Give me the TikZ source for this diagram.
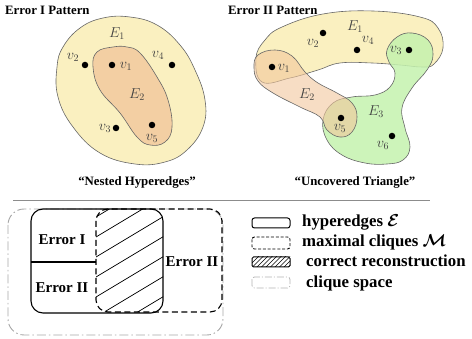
\documentclass[tikz,border=0pt]{standalone}
\usepackage{amsmath}
\usepackage{fontspec}
\setmainfont{Liberation Serif}
\begin{document}
\begin{tikzpicture}[x=1pt,y=-1pt,
  ttl/.style={font=\fontsize{12.8}{14}\selectfont\bfseries, inner sep=0pt},
  bigtxt/.style={font=\fontsize{15}{17}\selectfont\bfseries, inner sep=0pt},
  lgtxt/.style={font=\fontsize{16.8}{19}\selectfont\bfseries, inner sep=0pt, anchor=west},
  mlab/.style={font=\fontsize{14.5}{16}\selectfont, text=black!75, inner sep=0pt},
  vdot/.style={circle, fill=black, inner sep=0pt, minimum size=6.5pt},
  hedge/.style={draw=black!60, line width=0.6pt},
  solidbox/.style={draw=black, line width=1.1pt, rounded corners=12pt},
  dashbox/.style={draw=black, line width=1.1pt, rounded corners=12pt, dash pattern=on 6pt off 3.5pt},
  cliquebox/.style={draw=black!35, line width=0.9pt, rounded corners=16pt, dash pattern=on 9pt off 3pt on 1.5pt off 3pt},
  hatchline/.style={line width=0.7pt}
]
\useasboundingbox (0,0) rectangle (472,339);
\definecolor{yel}{HTML}{FAF0C0}
\definecolor{pch}{HTML}{F2C79C}
\definecolor{grn}{HTML}{C4F2AE}

% ---------- titles ----------
\node[ttl, anchor=west] (t1) at (5,10) {Error I Pattern};
\node[ttl, anchor=west] (t2) at (228,10) {Error II Pattern};

% ---------- left figure ----------
\path[hedge, fill=yel] plot[smooth cycle, tension=0.7] coordinates {
 (103,18) (80,28) (63,47) (57,67) (58,97) (73,127) (100,153) (135,164)
 (165,162) (187,150) (203,127) (205,100) (195,70) (180,45) (157,25) (130,17)};
\path[hedge, fill=pch, fill opacity=0.8] plot[smooth cycle, tension=0.7] coordinates {
 (113,47) (97,52) (93,67) (100,90) (120,113) (137,137) (150,145) (165,142)
 (172,127) (168,100) (157,77) (140,53) (127,47)};
\node[mlab] (lE1) at (117,34) {$E_1$};
\node[mlab] (lE2) at (137,95) {$E_2$};
\node[vdot] (lv2) at (85,65) {};
\node[vdot] (lv1) at (112,65) {};
\node[vdot] (lv4) at (172,65) {};
\node[vdot] (lv3) at (116,128) {};
\node[vdot] (lv5) at (152,125) {};
\node[mlab] (lv2l) at (73,57) {$v_2$};
\node[mlab] (lv1l) at (126,66) {$v_1$};
\node[mlab] (lv4l) at (158,55) {$v_4$};
\node[mlab] (lv3l) at (105,128) {$v_3$};
\node[mlab] (lv5l) at (152,138) {$v_5$};
\node[ttl] (c1) at (137,182) {“Nested Hyperedges”};

% ---------- right figure ----------
\path[hedge, fill=yel] plot[smooth cycle, tension=0.7] coordinates {
 (256,58) (265,40) (282,27) (323,14) (373,11) (420,17) (438,28) (443,48)
 (434,64) (423,67) (400,65) (372,63) (340,63) (318,70) (290,78) (262,82)};
\path[hedge, fill=grn, fill opacity=0.85] plot[smooth cycle, tension=0.7] coordinates {
 (387,50) (397,37) (412,33) (428,40) (433,55) (427,70) (412,88) (402,108)
 (405,128) (410,147) (403,160) (387,164) (365,163) (342,155) (327,140) (323,120)
 (333,103) (352,97) (375,95) (390,87) (395,73) (389,62)};
\path[hedge, fill=pch, fill opacity=0.6] plot[smooth cycle, tension=0.7] coordinates {
 (258,55) (275,50) (292,56) (305,72) (318,83) (337,93) (352,103) (357,117)
 (352,132) (340,137) (327,130) (320,117) (300,107) (273,93) (258,81) (254,67)};
\node[mlab] (rE1) at (355,27) {$E_1$};
\node[mlab] (rE2) at (307,95) {$E_2$};
\node[mlab] (rE3) at (376,112) {$E_3$};
\node[vdot] (rv2) at (323,33) {};
\node[vdot] (rv4) at (357,50) {};
\node[vdot] (rv3) at (409,50) {};
\node[vdot] (rv1) at (272,67) {};
\node[vdot] (rv5) at (341,118) {};
\node[vdot] (rv6) at (392,136) {};
\node[mlab] (rv2l) at (313,43) {$v_2$};
\node[mlab] (rv4l) at (368,40) {$v_4$};
\node[mlab] (rv3l) at (396,50) {$v_3$};
\node[mlab] (rv1l) at (284,68) {$v_1$};
\node[mlab] (rv5l) at (340,128) {$v_5$};
\node[mlab] (rv6l) at (383,145) {$v_6$};
\node[ttl] (c2) at (355,182) {“Uncovered Triangle”};

% ---------- separator ----------
\coordinate (sepL) at (13,200);
\coordinate (sepR) at (430,200);
\draw[black!45, line width=0.8pt] (sepL) -- (sepR);

% ---------- Venn-like diagram ----------
\draw[cliquebox] (8,209) rectangle (223,335);
\begin{scope}
  \clip[rounded corners=12pt] (96,209) rectangle (222,312);
  \clip[rounded corners=12pt] (31,209) rectangle (163,313);
  \foreach \i in {-3,...,6} {
    \draw[hatchline] (80,246.6+20*\i) -- ++(150,-90);
  }
\end{scope}
\draw[solidbox] (31,209) rectangle (163,313);
\draw[dashbox] (96,209) rectangle (222,312);
\coordinate (divL) at (31,262);
\coordinate (divR) at (96,262);
\draw[line width=1.1pt] (divL) -- (divR);
\node[bigtxt] (e1) at (62,240) {Error I};
\node[bigtxt] (e2) at (62,288) {Error II};
\node[bigtxt] (e3) at (192,262) {Error II};

% ---------- legend ----------
\draw[draw=black, line width=1pt, rounded corners=2.5pt] (252,218) rectangle (290,228);
\node[lgtxt] (lg1) at (302,222) {hyperedges $\boldsymbol{\mathcal{E}}$};
\draw[draw=black, line width=0.9pt, rounded corners=2.5pt, dash pattern=on 3pt off 1.8pt] (252,237) rectangle (290,249);
\node[lgtxt] (lg2) at (302,242) {maximal cliques $\boldsymbol{\mathcal{M}}$};
\begin{scope}
  \clip (252,257) rectangle (290,267);
  \foreach \i in {0,...,12} {
    \draw[line width=0.6pt] (245+4.5*\i,270) -- ++(16,-16);
  }
\end{scope}
\draw[draw=black, line width=1pt, rounded corners=1.5pt] (252,257) rectangle (290,267);
\node[lgtxt] (lg3) at (306,261) {correct reconstruction};
\draw[draw=black!30, line width=0.8pt, rounded corners=2.5pt, dash pattern=on 7pt off 2pt on 1pt off 2pt] (252,277) rectangle (290,288);
\node[lgtxt] (lg4) at (306,283) {clique space};
\end{tikzpicture}
\end{document}
